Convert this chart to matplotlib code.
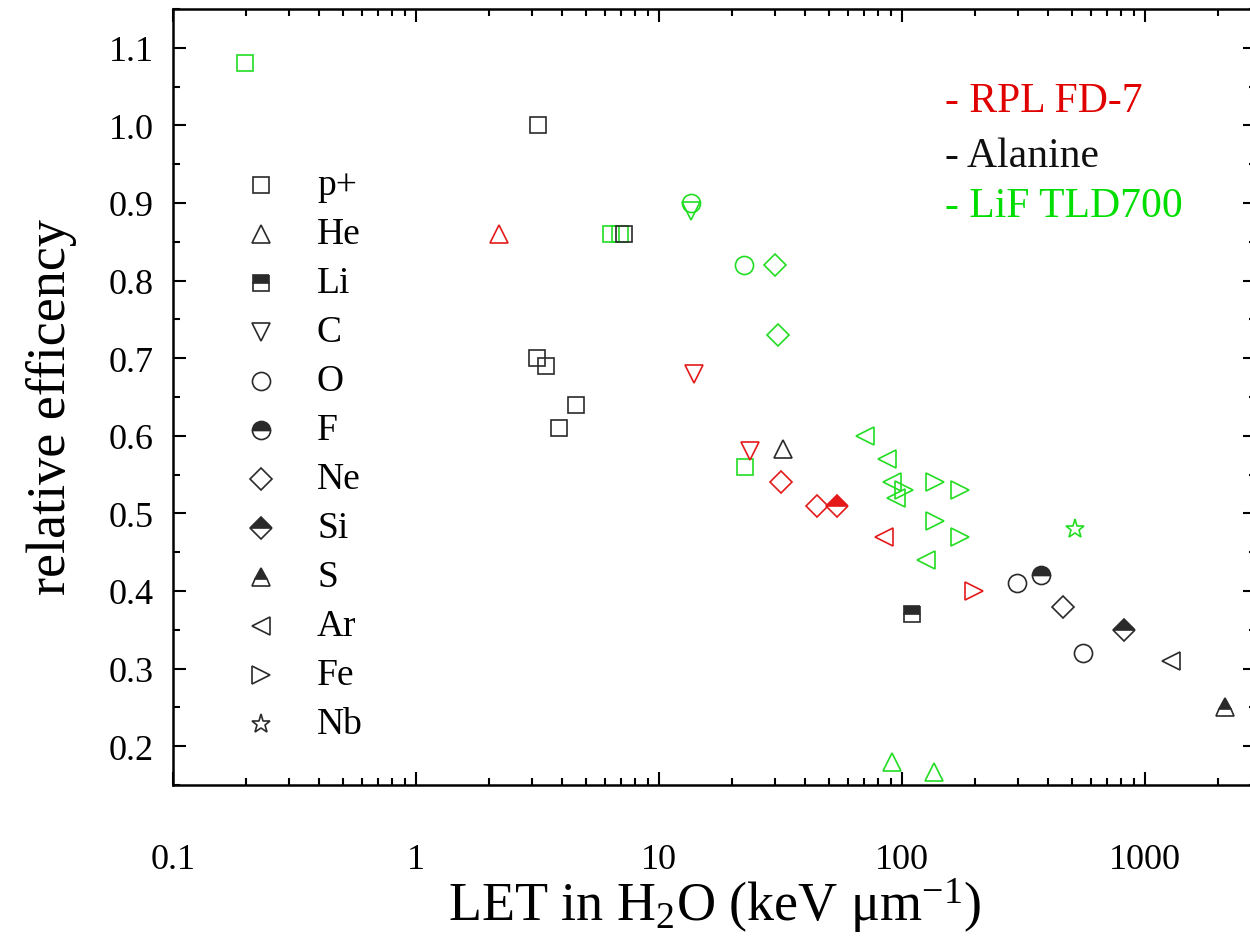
import matplotlib
matplotlib.use('Agg')
import matplotlib.pyplot as plt
from matplotlib.ticker import FixedLocator, NullFormatter, LogLocator, MultipleLocator

plt.rcParams['font.family'] = ['Liberation Serif', 'DejaVu Serif']
plt.rcParams['mathtext.fontset'] = 'custom'
plt.rcParams['mathtext.rm'] = 'Liberation Serif'
plt.rcParams['mathtext.it'] = 'Liberation Serif:italic'

# ---------------- data ----------------
detectors = ['RPL FD-7', 'Alanine', 'LiF TLD700']
ion_labels = ['p+', 'He', 'Li', 'C', 'O', 'F', 'Ne', 'Si', 'S', 'Ar', 'Fe', 'Nb']

rpl_ion = ['He', 'C', 'C', 'Ne', 'Ne', 'Si', 'Ar', 'Fe']
rpl_let = [2.2, 14.0, 23.7, 31.8, 44.5, 54.0, 84.5, 198]
rpl_eff = [0.86, 0.68, 0.58, 0.54, 0.51, 0.51, 0.47, 0.40]

ala_ion = ['p+', 'p+', 'p+', 'p+', 'p+', 'p+', 'He', 'Li', 'O', 'F', 'Ne', 'O', 'Si', 'Ar', 'S']
ala_let = [3.17, 7.2, 3.15, 3.43, 4.57, 3.89, 32.4, 110, 297, 373, 460, 556, 821, 1282, 2143]
ala_eff = [1.00, 0.86, 0.70, 0.69, 0.64, 0.61, 0.583, 0.37, 0.41, 0.42, 0.38, 0.32, 0.35, 0.31, 0.25]

lif_ion = ['p+', 'p+', 'p+', 'O', 'C', 'O', 'Ne', 'Ne', 'p+', 'Ar', 'Ar', 'Ar', 'Ar',
           'Fe', 'Fe', 'Fe', 'Fe', 'Fe', 'Ar', 'Nb', 'He', 'He']
lif_let = [0.198, 6.37, 6.88, 13.6, 13.6, 22.4, 30.0, 31.0, 22.6, 70.6, 87.1, 91.3, 94.8,
           102, 137, 137, 173, 173, 125, 515, 91.3, 136]
lif_eff = [1.08, 0.86, 0.86, 0.90, 0.89, 0.82, 0.82, 0.73, 0.56, 0.60, 0.57, 0.54, 0.52,
           0.53, 0.54, 0.49, 0.53, 0.47, 0.44, 0.48, 0.18, 0.167]

x_ticks = [0.1, 1, 10, 100, 1000]
x_tick_labels = ['0.1', '1', '10', '100', '1000']
y_ticks = [0.2, 0.3, 0.4, 0.5, 0.6, 0.7, 0.8, 0.9, 1.0, 1.1]
y_tick_labels = ['0.2', '0.3', '0.4', '0.5', '0.6', '0.7', '0.8', '0.9', '1.0', '1.1']

# ---------------- styles ----------------
RED = '#e41a1a'
BLACK = '#2a2a2a'
GREEN = '#22dd22'
det_colors = {'RPL FD-7': RED, 'Alanine': BLACK, 'LiF TLD700': GREEN}
text_colors = {'RPL FD-7': '#e00000', 'Alanine': '#101010', 'LiF TLD700': '#00dd00'}

marker_map = {
    'p+': ('s', 'none', 12.2), 'He': ('^', 'none', 13.5), 'Li': ('s', 'top', 12.2),
    'C': ('v', 'none', 13.5), 'O': ('o', 'none', 13.0), 'F': ('o', 'top', 13.0),
    'Ne': ('D', 'none', 11.2), 'Si': ('D', 'top', 11.2), 'S': ('^', 'top', 13.5),
    'Ar': ('<', 'none', 13.5), 'Fe': ('>', 'none', 13.5), 'Nb': ('*', 'none', 14.0),
}


def draw_marker(ax, x, y, ion, color, **kw):
    m, fill, ms = marker_map[ion]
    if fill == 'none':
        ax.plot([x], [y], linestyle='none', marker=m, markersize=ms,
                markerfacecolor='none', markeredgecolor=color, markeredgewidth=1.2, **kw)
    else:
        ax.plot([x], [y], linestyle='none', marker=m, markersize=ms, fillstyle=fill,
                markerfacecolor=color, markerfacecoloralt='white',
                markeredgecolor=color, markeredgewidth=1.2, **kw)


fig = plt.figure(figsize=(12.5, 9.37), dpi=100)
W, H = 1250, 937
left_px, right_px, top_px, bottom_px = 173, 1256, 10, 786
ax = fig.add_axes([left_px / W, 1 - bottom_px / H, (right_px - left_px) / W, (bottom_px - top_px) / H])

ax.set_xscale('log')
ax.set_xlim(0.1, 2864)
ax.set_ylim(0.15, 1.15)

for det, ions, lets, effs in [('LiF TLD700', lif_ion, lif_let, lif_eff),
                              ('Alanine', ala_ion, ala_let, ala_eff),
                              ('RPL FD-7', rpl_ion, rpl_let, rpl_eff)]:
    for ion, x, y in zip(ions, lets, effs):
        draw_marker(ax, x, y, ion, det_colors[det])

# ticks
ax.xaxis.set_major_locator(FixedLocator(x_ticks))
ax.set_xticklabels(x_tick_labels)
ax.xaxis.set_minor_locator(LogLocator(base=10, subs=range(2, 10), numticks=20))
ax.xaxis.set_minor_formatter(NullFormatter())
ax.yaxis.set_major_locator(FixedLocator(y_ticks))
ax.set_yticklabels(y_tick_labels)
ax.yaxis.set_minor_locator(MultipleLocator(0.05))

for sp in ax.spines.values():
    sp.set_linewidth(1.8)
ax.tick_params(which='both', direction='in', top=True, right=True, width=1.5)
ax.tick_params(which='major', length=9.5)
ax.tick_params(which='minor', length=5)
ax.tick_params(axis='x', which='major', pad=42, labelsize=26)
ax.tick_params(axis='y', which='major', pad=14, labelsize=26)

ax.set_xlabel(r'LET in H$_2$O (keV μm$^{\mathregular{-1}}$)', fontsize=39, va='baseline')
ax.xaxis.set_label_coords(0.5, -(921 - bottom_px) / (bottom_px - top_px))
ax.set_ylabel('relative efficency', fontsize=39, va='center')
ax.yaxis.set_label_coords((52 - left_px) / (right_px - left_px), 1 - (407 - top_px) / (bottom_px - top_px))

# ion legend (manual)
fx = lambda px: (px - left_px) / (right_px - left_px)
fy = lambda py: 1 - (py - top_px) / (bottom_px - top_px)
row0, drow = 186, 49
for i, ion in enumerate(ion_labels):
    yy = fy(row0 + i * drow)
    draw_marker(ax, fx(261), yy, ion, BLACK, transform=ax.transAxes, clip_on=False)
    ax.text(fx(317), yy, ion, transform=ax.transAxes, fontsize=27, ha='left', va='center')

# detector legend
for det, py in zip(detectors, [102, 157, 207]):
    ax.text(fx(945), fy(py), '- ' + det, transform=ax.transAxes, fontsize=30,
            color=text_colors[det], ha='left', va='center')

fig.savefig('out.png', dpi=100)
